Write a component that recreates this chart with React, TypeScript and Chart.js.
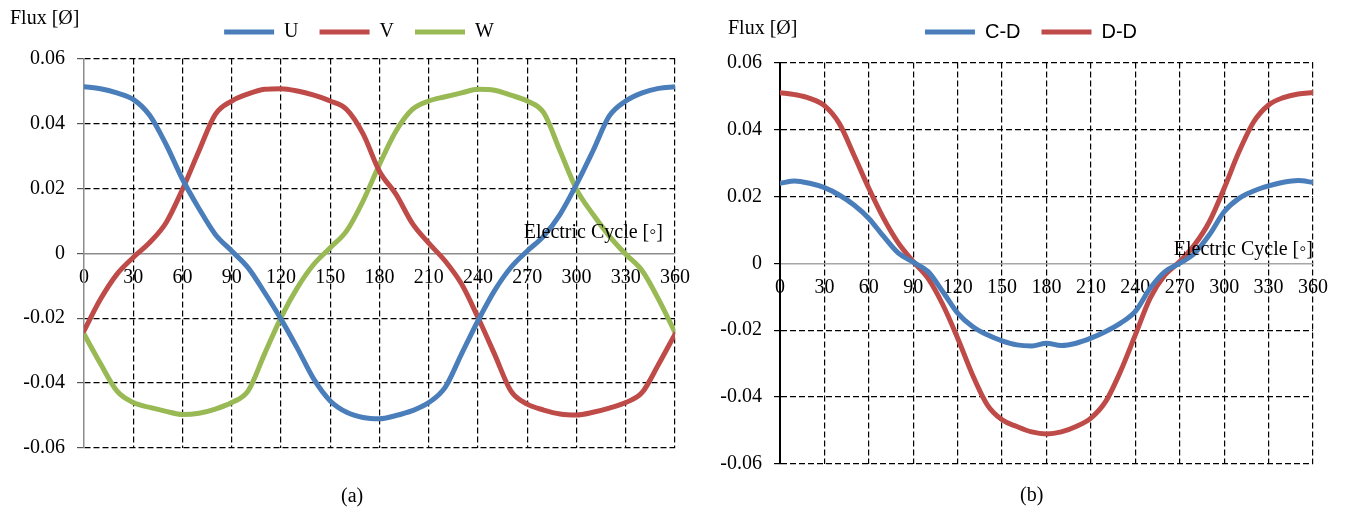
import React, { useEffect, useRef } from "react";
import { Chart, registerables } from "chart.js";

Chart.register(...registerables);

// ---------- data ----------
const angles = [
  0, 10, 20, 30, 40, 50, 60, 70, 80, 90, 100, 110, 120, 130, 140, 150, 160, 170, 180,
  190, 200, 210, 220, 230, 240, 250, 260, 270, 280, 290, 300, 310, 320, 330, 340, 350, 360,
];

const fluxU = [
  0.0513, 0.0507, 0.0494, 0.0474, 0.0425, 0.0335, 0.0228, 0.0138, 0.0058, 0.0007, -0.0045, -0.0121,
  -0.0203, -0.0293, -0.0388, -0.0455, -0.049, -0.0506, -0.051, -0.05, -0.0485, -0.046, -0.0413,
  -0.031, -0.0208, -0.0116, -0.0044, 0.0007, 0.0053, 0.012, 0.0212, 0.0315, 0.0423, 0.0469, 0.0494,
  0.0508, 0.0513,
];
const fluxV = [
  -0.0239, -0.0142, -0.0065, -0.0013, 0.0033, 0.0094, 0.0197, 0.0315, 0.0428, 0.0469, 0.0491, 0.0505,
  0.0507, 0.05, 0.0487, 0.0469, 0.0443, 0.0368, 0.0252, 0.0182, 0.0092, 0.0031, -0.0024, -0.0095,
  -0.0198, -0.031, -0.0424, -0.0465, -0.0483, -0.0495, -0.0498, -0.049, -0.0477, -0.046, -0.0429,
  -0.0342, -0.0249,
];
const fluxW = [
  -0.0249, -0.034, -0.0424, -0.046, -0.0475, -0.0487, -0.0497, -0.0493, -0.048, -0.046, -0.0424,
  -0.031, -0.0198, -0.0106, -0.0034, 0.0017, 0.0069, 0.0161, 0.0274, 0.0376, 0.0443, 0.0469, 0.0482,
  0.0494, 0.0505, 0.0502, 0.0487, 0.0469, 0.0433, 0.0315, 0.0197, 0.012, 0.0053, -0.0003, -0.0054,
  -0.0142, -0.0244,
];

const fluxCD = [
  0.0239, 0.0246, 0.0239, 0.0226, 0.0204, 0.0174, 0.0134, 0.008, 0.003, 0.0003, -0.0025, -0.0085,
  -0.0149, -0.0189, -0.0214, -0.0232, -0.0244, -0.0247, -0.0239, -0.0246, -0.0239, -0.0224, -0.0204,
  -0.0179, -0.0144, -0.0075, -0.0025, 0.0, 0.003, 0.0085, 0.0154, 0.0194, 0.0216, 0.0231, 0.0242,
  0.0247, 0.0242,
];
const fluxDD = [
  0.051, 0.0504, 0.0493, 0.0471, 0.0418, 0.0323, 0.0224, 0.0134, 0.006, 0.0005, -0.0045, -0.0124,
  -0.0224, -0.0333, -0.0423, -0.0468, -0.0488, -0.0504, -0.051, -0.0504, -0.0488, -0.0463, -0.0413,
  -0.0323, -0.0214, -0.0104, -0.0035, 0.0005, 0.0055, 0.0124, 0.0224, 0.0333, 0.0423, 0.0473, 0.0495,
  0.0506, 0.051,
];

const namesA = ["U", "V", "W"];
const namesB = ["C-D", "D-D"];
const yMin = -0.06;
const yMax = 0.06;
const yStep = 0.02;
const xMin = 0;
const xMax = 360;
const xStep = 30;

const BLUE = "#4a7ebb";
const RED = "#be4b48";
const GREEN = "#98b954";
const SERIF = "'Liberation Serif', 'Times New Roman', serif";
const SANS = "'Liberation Sans', Arial, sans-serif";

type Opts = {
  series: { name: string; values: number[]; color: string }[];
  legendFont: string;
  padBottom: number;
  yAxisWidth: number;
  rightSpace: number;
  spacer: number;
  yBorderColor: string;
  yBorderWidth: number;
  xBorderColor: string;
  tickColor: string;
  tickLen: number;
};

function makeConfig(o: Opts): any {
  const isZero = (v: number) => Math.abs(v) < 1e-9;
  return {
    type: "line",
    data: {
      datasets: o.series.map((s) => ({
        label: s.name,
        data: angles.map((a, i) => ({ x: a, y: s.values[i] })),
        borderColor: s.color,
        backgroundColor: s.color,
        borderWidth: 5,
        pointRadius: 0,
        fill: false,
        cubicInterpolationMode: "monotone",
        borderCapStyle: "round",
        borderJoinStyle: "round",
        yAxisID: "y",
        xAxisID: "x",
      })),
    },
    options: {
      responsive: false,
      animation: false,
      events: [],
      layout: { padding: { left: 0, right: 0, top: 1, bottom: o.padBottom } },
      plugins: {
        tooltip: { enabled: false },
        legend: {
          display: true,
          position: "top",
          align: "center",
          labels: {
            usePointStyle: true,
            pointStyle: "line",
            pointStyleWidth: 50,
            padding: 21,
            color: "#000",
            font: { family: o.legendFont, size: 20 },
          },
        },
        title: {
          display: true,
          text: "",
          weight: 100,
          padding: 0,
          font: { size: o.spacer, lineHeight: 1 },
        },
      },
      scales: {
        x: {
          type: "linear",
          position: { y: 0 },
          min: xMin,
          max: xMax,
          grid: {
            color: (c: any) => (c.tick && isZero(c.tick.value) ? "rgba(0,0,0,0)" : "#000"),
            lineWidth: 1.2,
            drawTicks: false,
          },
          border: { display: true, color: o.xBorderColor, width: 1.5, dash: [6, 3] },
          ticks: {
            stepSize: xStep,
            autoSkip: false,
            maxRotation: 0,
            padding: 12,
            color: "#000",
            font: { family: SERIF, size: 20 },
            callback: (v: any) => String(v),
          },
        },
        y: {
          type: "linear",
          position: "left",
          min: yMin,
          max: yMax,
          afterFit: (s: any) => {
            s.width = o.yAxisWidth;
          },
          grid: {
            color: (c: any) => (c.tick && isZero(c.tick.value) ? "rgba(0,0,0,0)" : "#000"),
            lineWidth: 1.2,
            drawTicks: true,
            tickLength: o.tickLen,
            tickColor: o.tickColor,
            tickBorderDash: [],
          },
          border: { display: true, color: o.yBorderColor, width: o.yBorderWidth, dash: [6, 3] },
          ticks: {
            stepSize: yStep,
            padding: 12,
            color: "#000",
            font: { family: SERIF, size: 20 },
            callback: (v: any) => String(Number(Number(v).toFixed(2))),
          },
        },
        // empty right-hand band, only reserves room so the legend centres where the original does
        yRight: {
          type: "linear",
          position: "right",
          display: true,
          grid: { display: false, drawTicks: false },
          ticks: { display: false },
          border: { display: false },
          afterFit: (s: any) => {
            s.width = o.rightSpace;
          },
        },
      },
    },
  };
}

const textBase: React.CSSProperties = {
  position: "absolute",
  fontFamily: SERIF,
  fontSize: 20,
  lineHeight: "20px",
  whiteSpace: "nowrap",
  color: "#000",
};

export default function App() {
  const refA = useRef<HTMLCanvasElement>(null);
  const refB = useRef<HTMLCanvasElement>(null);

  useEffect(() => {
    const chartA = new Chart(
      refA.current!,
      makeConfig({
        series: [
          { name: namesA[0], values: fluxU, color: BLUE },
          { name: namesA[1], values: fluxV, color: RED },
          { name: namesA[2], values: fluxW, color: GREEN },
        ],
        legendFont: SERIF,
        padBottom: 64,
        yAxisWidth: 84,
        rightSpace: 43,
        spacer: 6.5,
        yBorderColor: "#8c8c8c",
        yBorderWidth: 1.5,
        xBorderColor: "#8c8c8c",
        tickColor: "#555",
        tickLen: 7,
      })
    );
    const chartB = new Chart(
      refB.current!,
      makeConfig({
        series: [
          { name: namesB[0], values: fluxCD, color: BLUE },
          { name: namesB[1], values: fluxDD, color: RED },
        ],
        legendFont: SANS,
        padBottom: 48,
        yAxisWidth: 80,
        rightSpace: 49,
        spacer: 10.5,
        yBorderColor: "#000",
        yBorderWidth: 2,
        xBorderColor: "#a6a6a6",
        tickColor: "#000",
        tickLen: 6,
      })
    );
    return () => {
      chartA.destroy();
      chartB.destroy();
    };
  }, []);

  return (
    <div
      style={{
        position: "fixed",
        left: 0,
        top: 0,
        width: 1345,
        height: 512,
        background: "#fff",
        overflow: "hidden",
      }}
    >
      <canvas
        ref={refA}
        width={718}
        height={512}
        style={{ position: "absolute", left: 0, top: 0, width: 718, height: 512 }}
      />
      <canvas
        ref={refB}
        width={662}
        height={512}
        style={{ position: "absolute", left: 700, top: 0, width: 662, height: 512 }}
      />
      <div style={{ ...textBase, left: 10, top: 6.5 }}>Flux [Ø]</div>
      <div style={{ ...textBase, left: 728, top: 16.5 }}>Flux [Ø]</div>
      <div style={{ ...textBase, right: 1345 - 663, top: 221 }}>Electric Cycle [◦]</div>
      <div style={{ ...textBase, right: 1345 - 1313, top: 238 }}>Electric Cycle [◦]</div>
      <div style={{ ...textBase, left: 341, top: 485 }}>(a)</div>
      <div style={{ ...textBase, left: 1020, top: 484 }}>(b)</div>
    </div>
  );
}
